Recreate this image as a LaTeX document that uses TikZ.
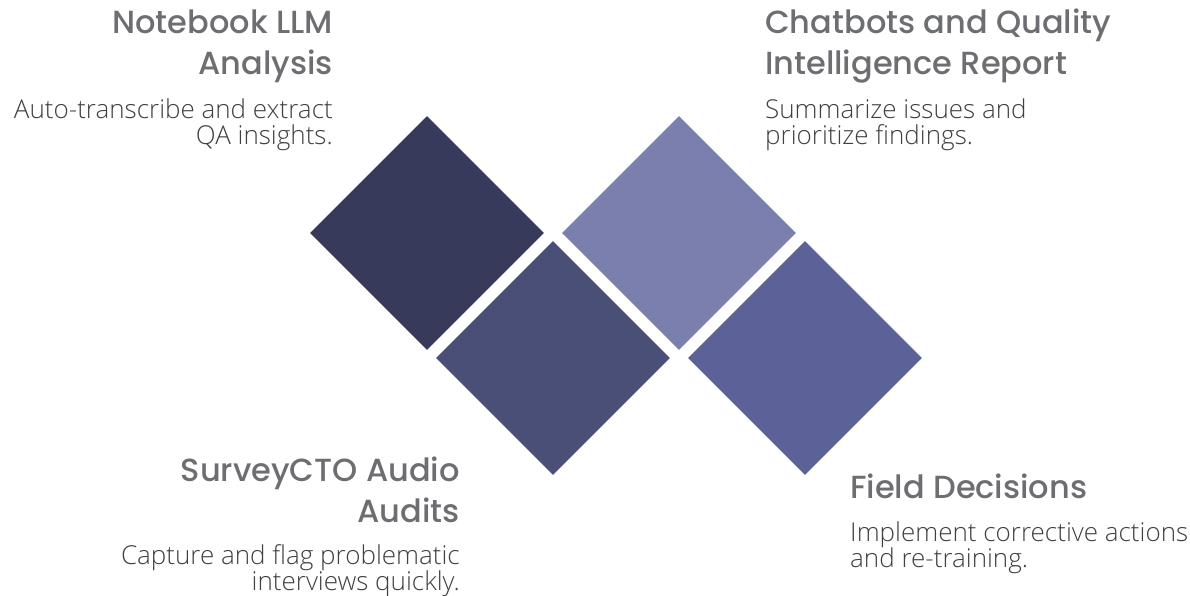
\documentclass[tikz,border=0pt]{standalone}
\usepackage{fontspec}
\usetikzlibrary{shapes.geometric}
\newfontfamily\titlefont{Poppins Medium}
\newfontfamily\bodyfont{Open Sans Light}
\definecolor{tilea}{HTML}{373A5A}
\definecolor{tileb}{HTML}{4A4F78}
\definecolor{tilec}{HTML}{7A7FAE}
\definecolor{tiled}{HTML}{5C6297}
\definecolor{headgray}{HTML}{6D6E72}
\definecolor{bodygray}{HTML}{404040}
\begin{document}
\begin{tikzpicture}[x=1pt,y=-1pt,
  tile/.style={diamond,draw=none,inner sep=0pt,minimum width=234pt,minimum height=234pt},
  head/.style={inner sep=0pt,text=headgray,font=\titlefont\fontsize{32}{41}\selectfont},
  body/.style={inner sep=0pt,text=bodygray,font=\bodyfont\fontsize{26}{26}\selectfont}]
\useasboundingbox (0,0) rectangle (1190,595);
% four tiles
\node[tile,fill=tilea] (d1) at (427,233) {};
\node[tile,fill=tileb] (d2) at (553,358) {};
\node[tile,fill=tilec] (d3) at (679,233) {};
\node[tile,fill=tiled] (d4) at (805,358) {};
% headings (anchored at the baseline of the last line)
\node[head,anchor=base east,align=right] (h1) at (333,74) {Notebook LLM\\Analysis};
\node[head,anchor=base west,align=left] (h3) at (765,74) {Chatbots and Quality\\Intelligence Report};
\node[head,anchor=base east,align=right] (h2) at (460,522) {SurveyCTO Audio\\Audits};
\node[head,anchor=base west,align=left] (h4) at (850,498) {Field Decisions};
% descriptions
\node[body,anchor=base east,align=right] (t1) at (333,144) {Auto-transcribe and extract\\QA insights.};
\node[body,anchor=base west,align=left] (t3) at (765,144) {Summarize issues and\\prioritize findings.};
\node[body,anchor=base east,align=right] (t2) at (460,590) {Capture and flag problematic\\interviews quickly.};
\node[body,anchor=base west,align=left] (t4) at (850,567) {Implement corrective actions\\and re-training.};
\end{tikzpicture}
\end{document}
